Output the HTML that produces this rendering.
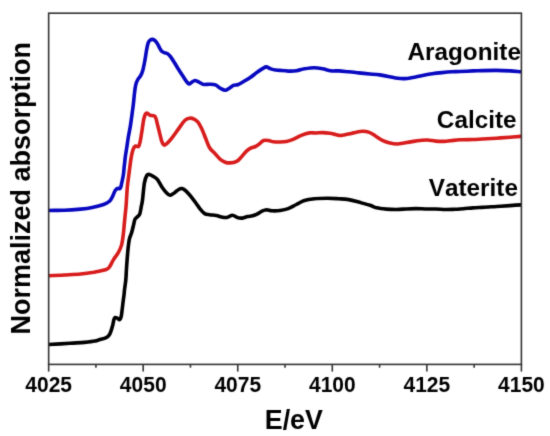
<!DOCTYPE html>
<html><head><meta charset="utf-8"><style>
html,body{margin:0;padding:0;background:#fff;}
body{width:550px;height:436px;overflow:hidden;}
svg{display:block;}
text{font-family:"Liberation Sans",Arial,sans-serif;font-weight:bold;fill:#000;font-kerning:none;}
</style></head><body>
<svg width="550" height="436" viewBox="0 0 550 436">
<defs><filter id="b" color-interpolation-filters="sRGB" x="0" y="0" width="550" height="436" filterUnits="userSpaceOnUse"><feConvolveMatrix order="3" kernelMatrix="0.0169 0.0962 0.0169 0.0962 0.5476 0.0962 0.0169 0.0962 0.0169" edgeMode="duplicate" preserveAlpha="true"/></filter></defs>
<g filter="url(#b)">
<rect width="550" height="436" fill="#fff"/>
<clipPath id="c"><rect x="48.65" y="0" width="472.75" height="436"/></clipPath>
<g fill="none" stroke-linejoin="round" stroke-linecap="round" stroke-width="3.6" clip-path="url(#c)">
<path stroke="#000" d="M48.8 344.5 C52.3 344.3 64.1 343.7 70.0 343.3 C75.9 342.9 80.2 342.8 84.4 342.4 C88.6 342.0 92.4 341.6 95.0 341.1 C97.6 340.6 98.2 339.9 100.0 339.4 C101.8 338.9 104.2 338.6 105.7 337.9 C107.2 337.2 108.1 336.4 108.9 335.4 C109.8 334.3 110.2 333.3 110.8 331.6 C111.4 329.9 112.2 327.3 112.7 325.3 C113.2 323.3 113.5 320.9 113.9 319.6 C114.3 318.3 114.6 317.7 115.2 317.5 C115.8 317.3 116.8 317.9 117.5 318.3 C118.2 318.7 119.0 319.9 119.6 319.6 C120.2 319.3 120.8 318.1 121.2 316.5 C121.6 314.9 121.8 312.4 122.1 310.1 C122.4 307.8 122.7 305.1 123.0 302.6 C123.3 300.1 123.7 297.3 124.0 295.0 C124.3 292.7 124.3 291.5 124.6 289.0 C124.9 286.5 125.5 283.2 125.8 280.0 C126.1 276.8 126.2 273.3 126.4 270.0 C126.6 266.7 126.8 263.6 127.1 260.0 C127.4 256.4 127.7 251.8 128.1 248.2 C128.5 244.6 128.9 241.1 129.5 238.6 C130.1 236.1 130.8 235.4 131.5 233.1 C132.2 230.8 133.0 227.1 133.6 224.8 C134.2 222.5 134.3 220.7 135.0 219.3 C135.7 217.9 136.9 217.4 137.7 216.5 C138.5 215.6 139.2 215.4 139.8 213.8 C140.4 212.2 140.8 209.2 141.2 206.9 C141.6 204.6 142.0 204.0 142.5 200.0 C143.0 196.0 143.7 187.0 144.4 182.9 C145.1 178.8 146.0 176.9 146.8 175.5 C147.6 174.1 148.2 174.2 149.3 174.4 C150.4 174.6 152.0 175.5 153.4 176.4 C154.8 177.3 156.0 177.7 157.5 179.6 C159.0 181.5 160.8 185.5 162.4 187.8 C164.0 190.1 165.9 192.4 167.3 193.6 C168.7 194.8 169.4 195.3 170.6 195.2 C171.8 195.0 173.2 193.6 174.6 192.7 C175.9 191.8 177.5 190.2 178.7 189.5 C179.9 188.8 180.8 188.3 182.0 188.6 C183.2 188.9 184.5 189.6 186.1 191.1 C187.7 192.6 190.0 195.4 191.8 197.6 C193.6 199.8 195.4 202.4 196.7 204.2 C198.0 206.0 198.5 207.0 199.8 208.6 C201.1 210.2 203.1 212.6 204.7 213.6 C206.3 214.6 207.7 214.4 209.6 214.7 C211.5 215.0 214.0 215.1 216.2 215.5 C218.4 215.9 220.8 217.0 222.7 217.3 C224.6 217.6 225.9 217.7 227.6 217.3 C229.2 217.0 230.9 215.1 232.6 215.2 C234.2 215.2 235.9 217.1 237.5 217.6 C239.1 218.1 240.7 218.3 242.4 218.1 C244.1 217.9 245.8 217.0 247.5 216.6 C249.2 216.2 250.9 216.2 252.5 215.8 C254.1 215.4 255.4 215.0 257.0 214.2 C258.6 213.4 260.4 211.8 262.0 211.1 C263.6 210.4 265.3 209.9 266.9 209.8 C268.5 209.8 269.6 210.7 271.8 210.8 C274.0 210.9 277.3 210.9 280.0 210.5 C282.7 210.1 285.5 209.6 288.2 208.6 C290.9 207.6 293.7 205.8 296.4 204.5 C299.1 203.2 301.5 201.4 304.5 200.5 C307.5 199.6 310.6 199.2 314.4 198.8 C318.2 198.4 323.4 198.3 327.5 198.3 C331.6 198.3 335.4 198.6 338.9 198.8 C342.4 199.0 345.4 199.1 348.7 199.6 C352.0 200.1 355.1 201.1 358.6 202.1 C362.2 203.1 367.0 204.4 370.0 205.3 C373.0 206.2 373.8 207.2 376.5 207.8 C379.2 208.4 383.1 208.8 386.4 209.1 C389.7 209.4 392.9 209.5 396.2 209.5 C399.5 209.5 402.7 209.2 406.0 209.0 C409.3 208.8 412.5 208.6 415.8 208.6 C419.1 208.6 422.3 208.9 425.6 209.0 C428.9 209.1 432.2 208.9 435.5 209.0 C438.8 209.1 442.1 209.4 445.3 209.5 C448.6 209.6 452.0 209.4 455.0 209.3 C458.0 209.2 460.3 208.9 463.3 208.7 C466.3 208.5 469.7 208.1 472.9 207.9 C476.1 207.7 478.6 207.6 482.5 207.4 C486.4 207.2 491.7 206.8 496.3 206.5 C500.9 206.2 505.9 205.9 510.0 205.6 C514.1 205.3 519.0 205.0 520.8 204.9"/>
<path stroke="#d81c1c" d="M48.8 275.7 C51.4 275.6 59.1 275.3 64.4 275.0 C69.7 274.7 75.8 274.5 80.7 274.0 C85.6 273.5 89.6 272.9 93.8 272.2 C98.0 271.4 103.5 270.4 106.1 269.5 C108.7 268.6 108.2 268.6 109.4 267.0 C110.6 265.4 112.0 262.1 113.5 259.6 C115.0 257.2 117.1 254.8 118.4 252.3 C119.8 249.9 120.8 247.9 121.6 244.9 C122.4 241.9 122.8 238.4 123.3 234.4 C123.8 230.4 124.1 225.3 124.6 220.7 C125.0 216.1 125.5 212.6 126.0 206.9 C126.5 201.2 126.8 192.5 127.4 186.3 C128.0 180.1 128.9 174.6 129.5 169.8 C130.1 165.0 130.6 160.9 131.2 157.4 C131.8 153.9 132.5 151.0 133.2 149.1 C133.9 147.2 134.7 146.4 135.6 146.0 C136.5 145.6 137.8 147.2 138.6 146.4 C139.4 145.6 139.7 143.6 140.3 140.9 C140.9 138.2 141.5 133.7 142.1 130.0 C142.7 126.3 143.2 121.7 143.8 119.0 C144.4 116.3 144.9 115.0 145.5 114.0 C146.1 113.0 146.7 113.0 147.4 113.2 C148.2 113.4 148.9 114.9 150.0 115.3 C151.1 115.7 152.9 115.3 153.9 115.8 C154.9 116.2 155.1 116.0 155.8 118.0 C156.5 120.0 157.3 124.0 158.3 127.8 C159.3 131.6 160.7 138.0 161.6 140.9 C162.5 143.8 163.2 144.5 164.0 145.0 C164.8 145.5 165.1 145.1 166.5 143.9 C167.9 142.7 170.2 140.2 172.2 137.6 C174.2 135.0 176.6 131.5 178.7 128.6 C180.8 125.7 183.2 122.0 185.0 120.3 C186.8 118.6 187.9 118.4 189.5 118.2 C191.1 118.0 193.1 118.6 194.5 119.3 C195.9 120.0 196.8 120.7 198.0 122.2 C199.2 123.7 200.2 125.6 201.5 128.2 C202.8 130.8 204.2 134.7 205.5 138.0 C206.8 141.3 208.1 145.3 209.6 147.8 C211.1 150.3 212.7 151.1 214.5 153.0 C216.3 154.9 218.5 157.8 220.3 159.3 C222.1 160.8 223.6 161.6 225.2 162.2 C226.8 162.8 228.2 163.0 230.1 162.9 C232.0 162.8 234.7 162.4 236.6 161.4 C238.5 160.4 239.9 158.5 241.6 156.8 C243.2 155.1 245.0 152.5 246.5 151.1 C248.0 149.7 249.1 149.0 250.6 148.2 C252.1 147.4 254.0 147.2 255.5 146.5 C257.0 145.8 258.2 144.7 259.6 143.7 C261.0 142.7 262.1 141.0 263.6 140.5 C265.1 140.0 267.0 140.3 268.6 140.5 C270.2 140.7 271.6 141.6 273.5 141.8 C275.4 142.1 277.8 142.1 280.0 142.0 C282.2 141.9 284.3 141.8 286.5 141.4 C288.7 141.0 290.6 140.4 293.1 139.4 C295.6 138.4 298.6 136.5 301.3 135.4 C304.0 134.3 307.1 133.3 309.5 132.9 C311.9 132.5 313.8 133.1 316.0 133.0 C318.2 132.9 320.3 132.6 322.6 132.6 C324.9 132.6 327.8 132.9 330.0 133.2 C332.2 133.5 333.8 134.2 335.7 134.6 C337.6 135.0 338.9 135.6 341.5 135.4 C344.1 135.2 348.8 133.9 351.3 133.4 C353.8 132.9 354.6 132.5 356.5 132.2 C358.4 131.8 360.6 131.3 362.7 131.3 C364.8 131.3 367.1 131.6 369.3 132.4 C371.5 133.2 373.6 134.9 375.8 136.2 C378.0 137.5 380.2 139.2 382.4 140.3 C384.6 141.4 386.4 142.1 388.9 142.7 C391.3 143.3 394.4 144.0 397.1 144.0 C399.8 144.0 402.6 143.1 405.3 142.7 C408.0 142.3 411.1 141.8 413.5 141.4 C415.9 141.0 417.7 140.7 420.0 140.5 C422.3 140.3 424.7 139.9 427.3 140.0 C429.9 140.1 432.8 140.9 435.5 141.1 C438.2 141.3 440.9 141.5 443.6 141.4 C446.3 141.3 449.1 140.9 451.8 140.6 C454.5 140.3 456.5 140.0 460.0 139.8 C463.5 139.6 469.1 139.6 472.9 139.5 C476.6 139.4 478.6 139.2 482.5 139.0 C486.4 138.8 491.7 138.5 496.3 138.2 C500.9 137.9 505.9 137.5 510.0 137.2 C514.1 136.9 519.0 136.5 520.8 136.4"/>
<path stroke="#0808c0" d="M48.8 210.5 C51.4 210.4 59.1 210.4 64.4 210.2 C69.7 210.0 76.1 209.5 80.7 209.1 C85.3 208.7 88.4 208.3 92.2 207.5 C96.0 206.7 100.7 205.5 103.6 204.5 C106.5 203.5 107.9 202.7 109.4 201.3 C110.9 200.0 111.6 198.2 112.6 196.4 C113.5 194.6 114.3 191.9 115.1 190.6 C115.9 189.3 116.8 188.8 117.6 188.4 C118.4 188.0 119.5 189.2 120.2 188.4 C120.9 187.6 121.1 185.8 121.6 183.6 C122.1 181.4 122.8 178.3 123.3 175.3 C123.8 172.3 123.9 168.9 124.3 165.7 C124.7 162.5 125.0 159.3 125.4 156.0 C125.9 152.7 126.5 149.3 127.0 146.0 C127.5 142.7 127.9 139.3 128.5 136.0 C129.1 132.7 129.8 129.5 130.4 125.9 C131.0 122.3 131.5 118.2 132.0 114.4 C132.5 110.6 133.1 106.7 133.5 102.9 C133.9 99.1 134.3 94.5 134.7 91.5 C135.1 88.5 135.3 86.6 135.8 84.6 C136.3 82.6 137.0 81.0 137.8 79.5 C138.6 78.0 140.0 77.0 140.8 75.4 C141.7 73.8 142.2 72.4 142.9 69.9 C143.6 67.4 144.3 63.7 144.9 60.3 C145.5 56.9 146.2 52.2 146.7 49.3 C147.2 46.4 147.6 44.6 148.1 43.1 C148.6 41.6 149.0 41.0 149.8 40.4 C150.6 39.8 151.8 39.3 152.7 39.4 C153.6 39.5 154.5 40.2 155.3 40.9 C156.1 41.6 156.8 42.6 157.5 43.8 C158.2 45.0 158.9 46.6 159.6 47.9 C160.3 49.1 160.9 50.5 161.7 51.3 C162.5 52.1 163.2 52.2 164.2 52.6 C165.2 53.0 166.6 53.1 167.6 53.7 C168.6 54.3 169.2 55.0 170.3 56.4 C171.4 57.8 172.8 60.1 174.2 62.3 C175.6 64.5 177.1 67.2 178.6 69.5 C180.1 71.8 181.7 74.3 183.0 76.3 C184.3 78.3 185.4 80.1 186.4 81.4 C187.4 82.7 188.1 83.8 189.0 84.0 C189.9 84.2 190.7 82.9 191.7 82.3 C192.7 81.7 193.7 80.5 194.9 80.5 C196.1 80.5 197.5 81.4 199.0 82.1 C200.5 82.8 202.1 84.2 203.9 84.5 C205.7 84.8 207.7 84.1 209.6 84.2 C211.5 84.3 213.6 84.2 215.4 84.9 C217.2 85.6 218.7 87.3 220.3 88.2 C221.9 89.1 223.7 90.3 225.2 90.3 C226.7 90.3 227.9 89.0 229.3 88.2 C230.7 87.4 231.9 86.0 233.4 85.4 C234.9 84.8 236.5 85.2 238.3 84.5 C240.1 83.8 241.9 82.5 244.0 81.3 C246.1 80.1 248.4 78.7 250.6 77.2 C252.8 75.7 255.0 73.8 257.1 72.3 C259.2 70.8 261.5 69.3 263.0 68.4 C264.5 67.5 264.9 66.8 266.2 66.9 C267.5 67.0 269.2 68.4 270.8 68.9 C272.4 69.4 274.0 69.8 275.5 70.0 C277.0 70.2 277.9 70.2 280.0 70.4 C282.1 70.6 285.5 71.0 288.2 71.1 C290.9 71.2 293.7 71.2 296.4 70.8 C299.1 70.4 301.5 69.3 304.5 68.8 C307.5 68.3 311.4 67.7 314.4 67.7 C317.4 67.7 319.9 68.3 322.6 68.8 C325.3 69.3 328.0 70.4 330.7 70.8 C333.4 71.2 335.9 70.7 338.9 70.9 C341.9 71.1 345.4 71.5 348.7 71.8 C352.0 72.1 355.1 72.5 358.6 72.9 C362.2 73.3 366.5 73.7 370.0 74.0 C373.5 74.3 376.5 74.5 379.8 74.9 C383.1 75.4 386.6 76.1 389.6 76.7 C392.6 77.3 395.3 78.0 397.8 78.3 C400.3 78.6 401.9 78.7 404.4 78.6 C406.9 78.5 409.6 78.0 412.6 77.5 C415.6 77.0 419.1 76.0 422.4 75.4 C425.7 74.8 428.9 74.2 432.2 73.7 C435.5 73.2 438.7 72.9 442.0 72.6 C445.3 72.3 448.8 72.0 451.8 71.8 C454.8 71.6 456.5 71.7 460.0 71.5 C463.5 71.3 469.1 71.1 472.9 70.9 C476.6 70.8 478.6 70.7 482.5 70.6 C486.4 70.5 491.7 70.4 496.3 70.4 C500.9 70.5 505.9 70.7 510.0 70.9 C514.1 71.1 519.0 71.6 520.8 71.7"/>
</g>
<g stroke="#333" stroke-width="1.6" fill="none">
<rect x="48.65" y="13.20" width="472.75" height="351.20"/>
<line x1="48.65" y1="364.40" x2="48.65" y2="371.60"/><line x1="95.93" y1="364.40" x2="95.93" y2="367.70"/><line x1="143.20" y1="364.40" x2="143.20" y2="371.60"/><line x1="190.47" y1="364.40" x2="190.47" y2="367.70"/><line x1="237.75" y1="364.40" x2="237.75" y2="371.60"/><line x1="285.02" y1="364.40" x2="285.02" y2="367.70"/><line x1="332.30" y1="364.40" x2="332.30" y2="371.60"/><line x1="379.57" y1="364.40" x2="379.57" y2="367.70"/><line x1="426.85" y1="364.40" x2="426.85" y2="371.60"/><line x1="474.12" y1="364.40" x2="474.12" y2="367.70"/><line x1="521.40" y1="364.40" x2="521.40" y2="371.60"/>
</g>
<g font-size="21"><text transform="translate(48.65,391.80) scale(1,1.07)" text-anchor="middle">4025</text><text transform="translate(143.20,391.80) scale(1,1.07)" text-anchor="middle">4050</text><text transform="translate(237.75,391.80) scale(1,1.07)" text-anchor="middle">4075</text><text transform="translate(332.30,391.80) scale(1,1.07)" text-anchor="middle">4100</text><text transform="translate(426.85,391.80) scale(1,1.07)" text-anchor="middle">4125</text><text transform="translate(521.40,391.80) scale(1,1.07)" text-anchor="middle">4150</text></g>
<text transform="translate(264.8,428.7) scale(1,1.062)" font-size="26.8">E/eV</text>
<text transform="translate(29.9,188.3) rotate(-90) scale(1,1.03)" text-anchor="middle" font-size="27">Normalized absorption</text>
<g font-size="24.3" text-anchor="end">
<text transform="translate(520.9,59.7) scale(1,1.02)">Aragonite</text>
<text transform="translate(516.5,128.2) scale(1,1.02)">Calcite</text>
<text transform="translate(517.9,195.8) scale(1,1.02)">Vaterite</text>
</g>
</g>
</svg>
</body></html>
